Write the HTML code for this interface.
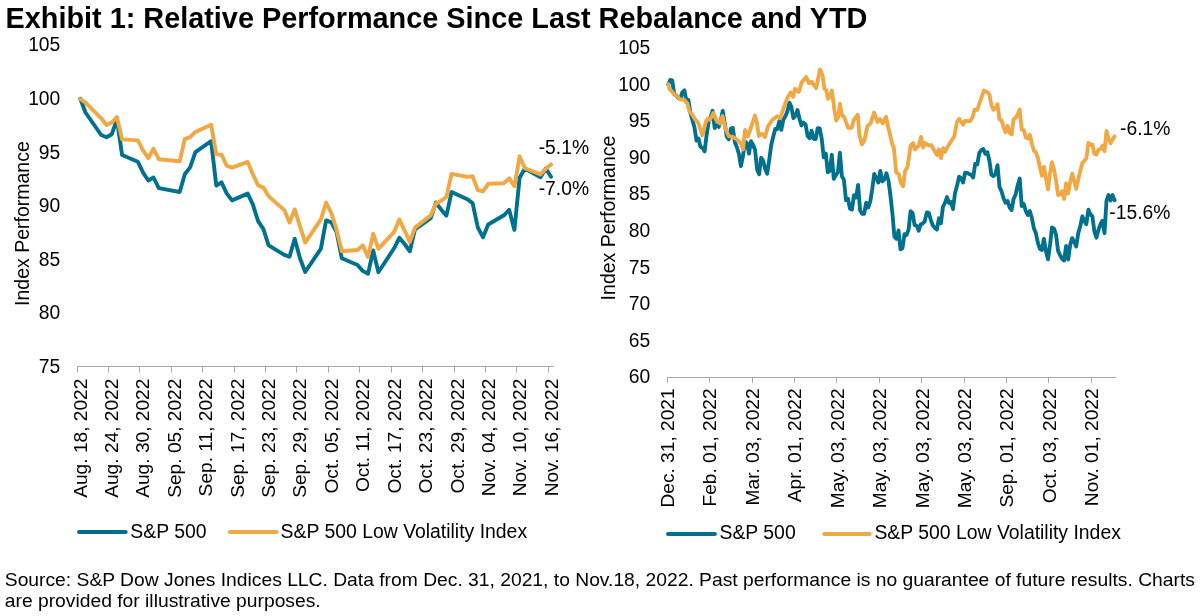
<!DOCTYPE html>
<html><head><meta charset="utf-8"><title>Exhibit 1</title>
<style>
html,body{margin:0;padding:0;background:#fff;}
body{width:1203px;height:616px;overflow:hidden;font-family:"Liberation Sans",sans-serif;}
svg{display:block;will-change:transform;}
text{font-family:"Liberation Sans",sans-serif;fill:#000;}
.t{font-size:28.85px;font-weight:bold;}
.a{font-size:19.3px;}
.y{font-size:19.5px;}
.x{font-size:19.15px;}
.g{font-size:19.4px;}
.s{font-size:19.27px;}
.ln{fill:none;stroke-width:3.9;stroke-linejoin:round;stroke-linecap:round;}
.lr{stroke-width:3.85;}
.ax{fill:none;stroke:#a6a6a6;stroke-width:1;}
</style></head><body>
<svg width="1203" height="616" viewBox="0 0 1203 616">
<rect width="1203" height="616" fill="#fff"/>
<text class="t" x="5.5" y="28.3">Exhibit 1: Relative Performance Since Last Rebalance and YTD</text>
<text class="a" x="60.3" y="372.9" text-anchor="end">75</text>
<text class="a" x="60.3" y="319.3" text-anchor="end">80</text>
<text class="a" x="60.3" y="265.7" text-anchor="end">85</text>
<text class="a" x="60.3" y="212.1" text-anchor="end">90</text>
<text class="a" x="60.3" y="158.5" text-anchor="end">95</text>
<text class="a" x="60.3" y="104.9" text-anchor="end">100</text>
<text class="a" x="60.3" y="51.3" text-anchor="end">105</text>
<text class="y" transform="translate(28.6,223.6) rotate(-90)" text-anchor="middle">Index Performance</text>
<path class="ax" d="M77,366.5 H553.6"/>
<path class="ax" d="M77.5,366.5 V372.5"/><text class="x" transform="translate(86.5,378.6) rotate(-90)" text-anchor="end">Aug. 18, 2022</text>
<path class="ax" d="M108.5,366.5 V372.5"/><text class="x" transform="translate(117.9,378.6) rotate(-90)" text-anchor="end">Aug. 24, 2022</text>
<path class="ax" d="M139.5,366.5 V372.5"/><text class="x" transform="translate(149.3,378.6) rotate(-90)" text-anchor="end">Aug. 30, 2022</text>
<path class="ax" d="M171.5,366.5 V372.5"/><text class="x" transform="translate(180.8,378.6) rotate(-90)" text-anchor="end">Sep. 05, 2022</text>
<path class="ax" d="M202.5,366.5 V372.5"/><text class="x" transform="translate(212.2,378.6) rotate(-90)" text-anchor="end">Sep. 11, 2022</text>
<path class="ax" d="M234.5,366.5 V372.5"/><text class="x" transform="translate(243.6,378.6) rotate(-90)" text-anchor="end">Sep. 17, 2022</text>
<path class="ax" d="M265.5,366.5 V372.5"/><text class="x" transform="translate(275.0,378.6) rotate(-90)" text-anchor="end">Sep. 23, 2022</text>
<path class="ax" d="M296.5,366.5 V372.5"/><text class="x" transform="translate(306.4,378.6) rotate(-90)" text-anchor="end">Sep. 29, 2022</text>
<path class="ax" d="M328.5,366.5 V372.5"/><text class="x" transform="translate(337.9,378.6) rotate(-90)" text-anchor="end">Oct. 05, 2022</text>
<path class="ax" d="M359.5,366.5 V372.5"/><text class="x" transform="translate(369.3,378.6) rotate(-90)" text-anchor="end">Oct. 11, 2022</text>
<path class="ax" d="M391.5,366.5 V372.5"/><text class="x" transform="translate(400.7,378.6) rotate(-90)" text-anchor="end">Oct. 17, 2022</text>
<path class="ax" d="M422.5,366.5 V372.5"/><text class="x" transform="translate(432.1,378.6) rotate(-90)" text-anchor="end">Oct. 23, 2022</text>
<path class="ax" d="M454.5,366.5 V372.5"/><text class="x" transform="translate(463.5,378.6) rotate(-90)" text-anchor="end">Oct. 29, 2022</text>
<path class="ax" d="M485.5,366.5 V372.5"/><text class="x" transform="translate(495.0,378.6) rotate(-90)" text-anchor="end">Nov. 04, 2022</text>
<path class="ax" d="M516.5,366.5 V372.5"/><text class="x" transform="translate(526.4,378.6) rotate(-90)" text-anchor="end">Nov. 10, 2022</text>
<path class="ax" d="M548.5,366.5 V372.5"/><text class="x" transform="translate(557.8,378.6) rotate(-90)" text-anchor="end">Nov. 16, 2022</text>
<text class="a" x="650.3" y="383.3" text-anchor="end">60</text>
<text class="a" x="650.3" y="346.7" text-anchor="end">65</text>
<text class="a" x="650.3" y="310.1" text-anchor="end">70</text>
<text class="a" x="650.3" y="273.5" text-anchor="end">75</text>
<text class="a" x="650.3" y="236.9" text-anchor="end">80</text>
<text class="a" x="650.3" y="200.3" text-anchor="end">85</text>
<text class="a" x="650.3" y="163.7" text-anchor="end">90</text>
<text class="a" x="650.3" y="127.1" text-anchor="end">95</text>
<text class="a" x="650.3" y="90.5" text-anchor="end">100</text>
<text class="a" x="650.3" y="53.9" text-anchor="end">105</text>
<text class="y" transform="translate(615,218) rotate(-90)" text-anchor="middle">Index Performance</text>
<path class="ax" d="M667,377.5 H1116.5"/>
<path class="ax" d="M667.5,377.5 V382.8"/><text class="x" transform="translate(674.0,388.4) rotate(-90)" text-anchor="end">Dec. 31, 2021</text>
<path class="ax" d="M709.5,377.5 V382.8"/><text class="x" transform="translate(716.4,388.4) rotate(-90)" text-anchor="end">Feb. 01, 2022</text>
<path class="ax" d="M752.5,377.5 V382.8"/><text class="x" transform="translate(758.8,388.4) rotate(-90)" text-anchor="end">Mar. 03, 2022</text>
<path class="ax" d="M794.5,377.5 V382.8"/><text class="x" transform="translate(801.3,388.4) rotate(-90)" text-anchor="end">Apr. 01, 2022</text>
<path class="ax" d="M836.5,377.5 V382.8"/><text class="x" transform="translate(843.7,388.4) rotate(-90)" text-anchor="end">May. 03, 2022</text>
<path class="ax" d="M879.5,377.5 V382.8"/><text class="x" transform="translate(886.1,388.4) rotate(-90)" text-anchor="end">May. 03, 2022</text>
<path class="ax" d="M921.5,377.5 V382.8"/><text class="x" transform="translate(928.5,388.4) rotate(-90)" text-anchor="end">May. 03, 2022</text>
<path class="ax" d="M964.5,377.5 V382.8"/><text class="x" transform="translate(970.9,388.4) rotate(-90)" text-anchor="end">May. 03, 2022</text>
<path class="ax" d="M1006.5,377.5 V382.8"/><text class="x" transform="translate(1013.4,388.4) rotate(-90)" text-anchor="end">Sep. 01, 2022</text>
<path class="ax" d="M1048.5,377.5 V382.8"/><text class="x" transform="translate(1055.8,388.4) rotate(-90)" text-anchor="end">Oct. 03, 2022</text>
<path class="ax" d="M1091.5,377.5 V382.8"/><text class="x" transform="translate(1098.2,388.4) rotate(-90)" text-anchor="end">Nov. 01, 2022</text>
<path class="ln" stroke="#00708f" d="M80.3,98.7 L85.5,112.5 L101.2,135.0 L106.5,137.3 L111.7,134.3 L116.9,119.6 L122.1,155.0 L137.8,161.7 L143.1,172.7 L148.3,180.5 L153.5,177.5 L158.8,188.1 L179.7,192.0 L184.9,174.0 L190.1,167.4 L195.4,152.1 L211.1,141.2 L216.3,185.6 L221.5,182.3 L226.7,193.4 L232.0,200.4 L247.7,193.6 L252.9,204.6 L258.1,221.1 L263.4,229.1 L268.6,245.3 L284.3,254.8 L289.5,256.7 L294.7,238.7 L300.0,258.3 L305.2,272.0 L320.9,248.7 L326.1,220.4 L331.3,222.3 L336.6,232.0 L341.8,258.3 L357.5,265.0 L362.7,270.9 L368.0,273.8 L373.2,250.5 L378.4,272.2 L394.1,248.3 L399.3,237.8 L404.6,244.0 L409.8,251.3 L415.0,229.4 L430.7,218.2 L435.9,202.6 L441.2,209.7 L446.4,215.6 L451.6,192.0 L467.3,199.2 L472.6,203.1 L477.8,227.3 L483.0,237.3 L488.2,224.5 L503.9,215.3 L509.2,209.9 L514.4,229.9 L519.6,177.7 L524.9,168.5 L540.5,177.3 L545.8,168.6 L551.0,176.8"/>
<path class="ln" stroke="#efa843" d="M80.3,99.2 L85.5,102.6 L101.2,118.3 L106.5,125.1 L111.7,122.6 L116.9,117.0 L122.1,139.4 L137.8,140.4 L143.1,150.7 L148.3,158.2 L153.5,148.8 L158.8,159.2 L179.7,161.3 L184.9,138.8 L190.1,137.2 L195.4,131.9 L211.1,124.7 L216.3,154.4 L221.5,154.7 L226.7,165.7 L232.0,167.6 L247.7,161.9 L252.9,174.4 L258.1,185.4 L263.4,187.6 L268.6,196.3 L284.3,210.1 L289.5,222.6 L294.7,209.4 L300.0,226.3 L305.2,242.6 L320.9,219.4 L326.1,202.6 L331.3,213.2 L336.6,229.7 L341.8,251.3 L357.5,250.0 L362.7,245.4 L368.0,256.9 L373.2,233.8 L378.4,248.8 L394.1,231.9 L399.3,219.4 L404.6,230.7 L409.8,241.9 L415.0,227.6 L430.7,215.4 L435.9,203.7 L441.2,200.7 L446.4,196.9 L451.6,173.8 L467.3,176.9 L472.6,176.3 L477.8,190.1 L483.0,191.3 L488.2,183.8 L503.9,183.2 L509.2,178.2 L514.4,186.3 L519.6,156.3 L524.9,168.2 L540.5,174.4 L545.8,168.8 L551.0,164.4"/>
<path class="ln lr" stroke="#00708f" d="M668.2,84.6 L670.2,79.9 L672.2,80.3 L674.3,94.5 L676.3,95.2 L678.3,98.1 L680.3,99.1 L682.3,92.4 L684.4,90.4 L686.4,100.7 L688.4,100.0 L690.4,113.2 L692.4,119.9 L694.5,127.6 L696.5,140.6 L698.5,138.6 L700.5,146.9 L702.5,147.8 L704.6,151.4 L706.6,135.1 L708.6,122.2 L710.6,117.4 L712.6,110.8 L714.7,128.0 L716.7,124.4 L718.7,126.9 L720.7,121.0 L722.7,110.9 L724.8,123.6 L726.8,136.7 L728.8,139.3 L730.8,128.6 L732.8,127.9 L734.9,142.5 L736.9,147.3 L738.9,154.0 L740.9,166.2 L742.9,156.4 L745.0,141.6 L747.0,143.2 L749.0,153.6 L751.0,141.2 L753.0,144.7 L755.1,150.0 L757.1,169.6 L759.1,174.3 L761.1,157.7 L763.1,160.5 L765.2,169.0 L767.2,173.7 L769.2,159.9 L771.2,145.2 L773.2,136.8 L775.3,128.9 L777.3,129.1 L779.3,121.3 L781.3,129.8 L783.3,119.9 L785.4,116.3 L787.4,111.3 L789.4,102.6 L791.4,107.1 L793.4,118.1 L795.5,115.7 L797.5,110.0 L799.5,118.8 L801.5,125.5 L803.5,122.6 L805.6,124.4 L807.6,136.0 L809.6,138.3 L811.6,130.7 L813.6,138.9 L815.7,139.0 L817.7,128.1 L819.7,128.5 L821.7,138.6 L823.7,157.4 L825.8,153.6 L827.8,172.2 L829.8,170.8 L831.8,154.8 L833.8,178.8 L835.9,175.1 L837.9,172.0 L839.9,152.7 L841.9,176.3 L843.9,179.9 L846.0,200.2 L848.0,198.7 L850.0,208.8 L852.0,209.6 L854.0,195.1 L856.1,197.5 L858.1,184.9 L860.1,210.4 L862.1,213.9 L864.1,213.8 L866.2,202.6 L868.2,207.5 L870.2,201.7 L872.2,189.5 L874.2,173.9 L876.3,177.9 L878.3,182.6 L880.3,170.9 L882.3,181.4 L884.3,179.4 L886.4,173.3 L888.4,180.2 L890.4,195.3 L892.4,213.3 L894.4,236.7 L896.5,238.8 L898.5,230.4 L900.5,249.4 L902.5,248.1 L904.5,234.2 L906.6,234.9 L908.6,229.3 L910.6,211.3 L912.6,213.1 L914.6,225.2 L916.7,225.6 L918.7,230.7 L920.7,224.5 L922.7,223.5 L924.7,221.4 L926.8,212.4 L928.8,212.9 L930.8,219.8 L932.8,225.3 L934.8,227.9 L936.9,229.6 L938.9,218.3 L940.9,223.3 L942.9,206.9 L944.9,203.2 L947.0,197.1 L949.0,202.9 L951.0,202.0 L953.0,209.1 L955.0,193.2 L957.1,185.6 L959.1,176.6 L961.1,178.3 L963.1,182.5 L965.1,172.6 L967.2,173.0 L969.2,174.0 L971.2,174.8 L973.2,177.5 L975.2,163.8 L977.3,164.3 L979.3,152.9 L981.3,150.2 L983.3,149.0 L985.3,153.7 L987.4,152.2 L989.4,160.7 L991.4,174.7 L993.4,176.1 L995.4,174.2 L997.5,165.1 L999.5,187.0 L1001.5,191.2 L1003.5,198.1 L1005.5,202.8 L1007.6,201.0 L1009.6,207.5 L1011.6,210.0 L1013.6,198.8 L1015.6,194.7 L1017.7,185.2 L1019.7,178.5 L1021.7,206.0 L1023.7,203.9 L1025.7,210.8 L1027.8,215.1 L1029.8,211.0 L1031.8,217.7 L1033.8,228.0 L1035.8,232.9 L1037.9,242.9 L1039.9,248.8 L1041.9,250.0 L1043.9,238.8 L1045.9,251.0 L1048.0,259.4 L1050.0,245.0 L1052.0,227.5 L1054.0,228.6 L1056.0,234.6 L1058.1,250.9 L1060.1,255.1 L1062.1,258.7 L1064.1,260.5 L1066.1,246.0 L1068.2,259.5 L1070.2,244.7 L1072.2,238.1 L1074.2,242.0 L1076.2,246.5 L1078.3,232.9 L1080.3,226.0 L1082.3,216.3 L1084.3,220.7 L1086.3,224.3 L1088.4,209.7 L1090.4,214.2 L1092.4,216.6 L1094.4,231.6 L1096.4,237.7 L1098.5,229.8 L1100.5,224.1 L1102.5,220.8 L1104.5,233.1 L1106.5,200.7 L1108.6,195.0 L1110.6,200.5 L1112.6,195.1 L1114.6,200.2"/>
<path class="ln lr" stroke="#efa843" d="M668.4,84.2 L669.4,88.8 L673.8,93.8 L676.9,95.6 L680.0,99.4 L684.4,100.0 L687.5,103.8 L689.4,111.2 L692.5,115.0 L695.0,119.4 L698.1,122.5 L702.3,135.3 L706.2,121.0 L708.1,118.4 L710.0,120.0 L713.3,113.1 L716.9,121.6 L720.0,123.4 L722.6,116.0 L725.3,128.5 L728.8,136.2 L733.1,136.9 L737.5,140.0 L741.2,143.8 L743.1,149.4 L745.0,130.0 L747.8,136.5 L751.2,127.0 L754.9,115.6 L756.9,122.5 L758.8,136.0 L761.9,133.8 L765.0,137.0 L768.1,126.0 L772.5,119.7 L777.2,116.2 L780.3,118.1 L783.8,107.5 L787.5,97.5 L790.6,92.5 L793.1,96.9 L795.0,88.8 L798.8,91.9 L801.9,81.9 L806.2,76.9 L808.8,83.1 L811.9,81.9 L816.2,88.1 L820.0,69.4 L822.5,75.0 L824.4,88.8 L826.2,90.0 L828.1,98.8 L830.0,96.2 L831.9,90.6 L834.4,110.0 L836.2,120.6 L838.1,117.5 L840.0,103.8 L841.9,115.0 L844.2,117.2 L848.1,127.8 L851.6,127.8 L853.8,120.0 L857.8,114.7 L859.4,135.0 L861.9,144.4 L864.4,140.6 L867.5,126.0 L870.6,123.4 L874.1,112.5 L877.5,121.9 L880.0,119.0 L882.8,123.4 L886.0,116.9 L888.4,128.0 L892.5,145.0 L893.8,147.5 L896.2,172.5 L898.8,174.4 L900.6,182.5 L903.1,186.2 L905.0,171.2 L907.5,166.9 L910.6,145.6 L913.1,143.1 L915.0,149.4 L918.8,145.6 L921.0,136.9 L923.1,147.5 L925.0,143.1 L928.8,145.6 L931.2,145.0 L936.9,155.0 L938.8,149.4 L941.0,158.1 L943.1,148.1 L945.0,151.9 L947.5,147.0 L954.4,136.0 L956.9,122.0 L959.2,118.8 L963.1,124.7 L965.0,121.0 L970.0,121.2 L972.5,117.5 L974.6,109.6 L977.2,110.0 L983.8,90.6 L987.4,92.3 L989.4,94.6 L991.4,105.2 L993.4,109.8 L995.4,108.2 L997.5,104.3 L999.5,119.5 L1001.5,120.2 L1003.5,127.1 L1005.5,132.2 L1007.6,125.9 L1009.6,132.9 L1011.6,134.3 L1013.6,119.1 L1015.6,118.0 L1017.7,114.5 L1019.7,109.6 L1021.7,129.7 L1023.7,129.9 L1025.7,137.3 L1027.8,138.6 L1029.8,134.8 L1031.8,143.2 L1033.8,150.6 L1035.8,152.1 L1037.9,158.0 L1039.9,167.3 L1041.9,175.7 L1043.9,166.9 L1045.9,178.2 L1048.0,189.3 L1050.0,173.6 L1052.0,162.2 L1054.0,169.4 L1056.0,180.5 L1058.1,195.1 L1060.1,194.3 L1062.1,191.2 L1064.1,199.0 L1066.1,183.3 L1068.2,193.5 L1070.2,182.1 L1072.2,173.6 L1074.2,181.2 L1076.2,188.8 L1078.3,179.1 L1080.3,170.9 L1082.3,163.0 L1084.3,160.9 L1086.3,158.4 L1088.4,142.8 L1090.4,144.9 L1092.4,144.5 L1094.4,153.8 L1096.4,154.6 L1098.5,149.5 L1100.5,149.1 L1102.5,145.7 L1104.5,151.2 L1106.5,130.9 L1108.6,139.0 L1110.6,143.2 L1112.6,139.4 L1114.6,136.4"/>
<text class="a" x="538.7" y="153.7">-5.1%</text>
<text class="a" x="538.7" y="194.8">-7.0%</text>
<text class="a" x="1120" y="134.8">-6.1%</text>
<text class="a" x="1109.3" y="218.9">-15.6%</text>
<path d="M79,532.0 H125.7" stroke="#00708f" stroke-width="4.05" stroke-linecap="round" fill="none"/>
<text class="g" x="130.3" y="537.6">S&amp;P 500</text>
<path d="M229.9,532.0 H276.6" stroke="#efa843" stroke-width="4.05" stroke-linecap="round" fill="none"/>
<text class="g" x="280.6" y="537.6">S&amp;P 500 Low Volatility Index</text>
<path d="M668,533.9 H714.9" stroke="#00708f" stroke-width="4.05" stroke-linecap="round" fill="none"/>
<text class="g" x="719.5" y="538.7">S&amp;P 500</text>
<path d="M824.3,533.9 H869.7" stroke="#efa843" stroke-width="4.05" stroke-linecap="round" fill="none"/>
<text class="g" x="874.4" y="538.7">S&amp;P 500 Low Volatility Index</text>
<text class="s" x="4.8" y="585.9">Source: S&amp;P Dow Jones Indices LLC. Data from Dec. 31, 2021, to Nov.18, 2022. Past performance is no guarantee of future results. Charts</text>
<text class="s" x="4.8" y="607">are provided for illustrative purposes.</text>
</svg></body></html>
